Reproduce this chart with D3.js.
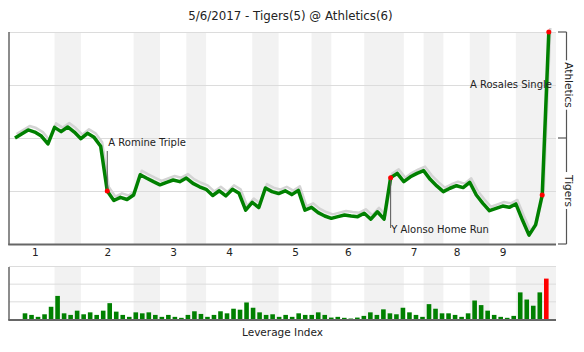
<!DOCTYPE html>
<html><head><meta charset="utf-8">
<script src="https://cdn.jsdelivr.net/npm/d3@7/dist/d3.min.js"></script>
<style>body{margin:0;background:#fff}svg{display:block}text{font-family:"DejaVu Sans",sans-serif;fill:#222}</style>
</head><body><svg id="c" width="584" height="352"></svg>
<script>
const title = "5/6/2017 - Tigers(5) @ Athletics(6)";
// Athletics win probability (%) after each plate appearance (index 0 = game start)
const winProb = [50,51.9,53.8,52.8,50.9,47.2,55.0,53.0,55.2,52.8,
  49.7,52.2,50.3,46.1,25.0,20.5,22.0,21.0,23.1,32.7,
  31.0,29.4,27.9,29.1,30.2,29.4,31.1,28.6,27.0,25.8,
  22.9,25.1,22.7,25.8,23.9,16.0,19.6,17.2,26.4,24.7,
  23.8,25.1,23.3,25.3,16.0,17.3,14.8,13.2,12.1,12.9,
  13.7,13.2,12.9,14.5,11.7,15.2,11.7,31.3,33.3,29.4,
  31.7,33.3,34.6,30.5,27.4,24.7,26.3,27.5,26.6,29.1,
  23.1,19.2,15.7,16.8,17.9,17.3,18.9,11.3,4.2,9.0,
  23.1,100];
// Leverage index of each plate appearance
const leverage = [0.70,0.52,0.30,0.59,1.44,2.67,0.70,0.52,1.00,0.59,
  0.81,0.52,1.00,1.85,0.89,0.52,0.30,0.81,0.70,0.81,
  0.52,0.30,0.52,0.30,0.19,0.52,0.93,0.63,0.30,0.52,
  0.93,0.70,1.22,1.11,1.93,1.33,0.81,0.52,0.59,0.30,
  0.52,0.30,0.70,0.52,0.52,0.81,0.52,0.22,0.30,0.19,
  0.11,0.22,0.41,0.81,0.52,1.15,0.70,0.59,1.33,0.81,
  0.52,0.30,1.74,1.22,0.70,0.70,0.52,0.30,0.70,2.15,
  1.63,1.00,0.52,0.30,0.19,0.41,3.07,2.26,1.56,3.07,
  4.63];
const halfInningStarts = [0,6,10,18,22,26,29,36,40,45,48,53,59,62,65,69,72,76];
const innings = ["1","2","3","4","5","6","7","8","9"];
const events = [
  {pa:14, label:"A Romine Triple"},
  {pa:57, label:"Y Alonso Home Run"},
  {pa:80, label:""},
  {pa:81, label:"A Rosales Single"}];
const teams = ["Athletics","Tigers"];
const bottomLabel = "Leverage Index";

const svg = d3.select("#c");
const L = 9, R = 556, T = 32, B = 244, LT = 267, LB = 320;
const nPA = leverage.length;
const x = d3.scaleLinear().domain([0, nPA]).range([15, 548.8]);
const xb = d3.scaleLinear().domain([1, nPA]).range([25, 546.3]);
const y = d3.scaleLinear().domain([0, 100]).range([B, T]);
const yl = d3.scaleLinear().domain([0, 6]).range([LB - 0.5, LT - 0.5]);

// bottom-half bands
const bands = [];
for (let i = 1; i < halfInningStarts.length; i += 2) {
  const s = halfInningStarts[i];
  const e = i + 1 < halfInningStarts.length ? halfInningStarts[i + 1] : null;
  bands.push({x0: x(s), x1: e === null ? R : x(e)});
}
[[T, B], [LT, LB]].forEach(([t, b]) => {
  svg.append("g").selectAll("rect").data(bands).join("rect")
    .attr("x", d => d.x0).attr("width", d => d.x1 - d.x0)
    .attr("y", t).attr("height", b - t).attr("fill", "#f2f2f2");
});

// gridlines
svg.append("g").selectAll("line").data([25, 50, 75, 100]).join("line")
  .attr("x1", L).attr("x2", R).attr("y1", d => y(d) + 0.5).attr("y2", d => y(d) + 0.5)
  .attr("stroke", "#dcdcdc").attr("stroke-width", 1);
svg.append("g").selectAll("line").data([2, 4, 6]).join("line")
  .attr("x1", L).attr("x2", R).attr("y1", d => yl(d)).attr("y2", d => yl(d))
  .attr("stroke", "#dcdcdc").attr("stroke-width", 1);

// leverage bars
svg.append("g").selectAll("rect").data(leverage).join("rect")
  .attr("x", (d, i) => xb(i + 1) - 2.3).attr("width", 4.6)
  .attr("y", d => yl(d)).attr("height", d => yl(0) - yl(d))
  .attr("fill", (d, i) => i === nPA - 1 ? "#ff0000" : "#008000");

// axes lines
svg.append("line").attr("x1", L).attr("x2", L).attr("y1", T).attr("y2", B + 1).attr("stroke", "#666").attr("stroke-width", 1.5);
svg.append("line").attr("x1", L - 0.75).attr("x2", R).attr("y1", B + 0.5).attr("y2", B + 0.5).attr("stroke", "#666").attr("stroke-width", 2);
svg.append("line").attr("x1", L).attr("x2", L).attr("y1", LT).attr("y2", LB).attr("stroke", "#666").attr("stroke-width", 1.5);
svg.append("line").attr("x1", L - 0.75).attr("x2", R).attr("y1", LB).attr("y2", LB).attr("stroke", "#666").attr("stroke-width", 2);

// inning labels
const mids = [];
for (let i = 0; i < halfInningStarts.length; i += 2) mids.push((halfInningStarts[i] + halfInningStarts[i + 1]) / 2);
const ax = svg.append("g").attr("transform", `translate(0,${B + 1})`)
  .call(d3.axisBottom(x).tickValues(mids).tickFormat((d, i) => innings[i]).tickSize(0).tickPadding(4));
ax.select(".domain").remove();
ax.selectAll("text").attr("font-size", 10.5).attr("font-family", "DejaVu Sans").attr("fill", "#222");

// win probability lines
const lineShadow = d3.line().x((d, i) => x(i) + 1.5).y(d => y(d) - 4);
const line = d3.line().x((d, i) => x(i)).y(d => y(d));
svg.append("path").datum(winProb).attr("d", lineShadow).attr("fill", "none")
  .attr("stroke", "#d4d4d4").attr("stroke-width", 2.5).attr("stroke-linejoin", "round");
svg.append("path").datum(winProb).attr("d", line).attr("fill", "none")
  .attr("stroke", "#008000").attr("stroke-width", 3.5).attr("stroke-linejoin", "round");

// annotations
const ev = i => events[i];
svg.append("line").attr("x1", x(14)).attr("x2", x(14)).attr("y1", 151).attr("y2", y(winProb[14]))
  .attr("stroke", "#555").attr("stroke-width", 1);
svg.append("text").attr("x", x(14) + 1).attr("y", 145.5).attr("font-size", 10).text(ev(0).label);
svg.append("line").attr("x1", x(57)).attr("x2", x(57)).attr("y1", y(winProb[57])).attr("y2", 228)
  .attr("stroke", "#555").attr("stroke-width", 1);
svg.append("text").attr("x", x(57) + 0.5).attr("y", 233).attr("font-size", 10).text(ev(1).label);
svg.append("text").attr("x", 552).attr("y", 87.5).attr("text-anchor", "end").attr("font-size", 10).text(ev(3).label);

svg.append("g").selectAll("circle").data(events).join("circle")
  .attr("cx", d => x(d.pa)).attr("cy", d => y(winProb[d.pa])).attr("r", 2.5).attr("fill", "#ff0000");

// right bracket
const bx = 566.5;
svg.append("line").attr("x1", bx).attr("x2", bx).attr("y1", T).attr("y2", B).attr("stroke", "#555").attr("stroke-width", 1.2);
svg.append("g").selectAll("line").data([100, 50, 0]).join("line")
  .attr("x1", 558).attr("x2", bx).attr("y1", d => y(d)).attr("y2", d => y(d))
  .attr("stroke", "#555").attr("stroke-width", 1.2);
[[teams[0], 75], [teams[1], 25]].forEach(([t, v]) => {
  const g = svg.append("g").attr("transform", `translate(${bx - 2},${y(v)}) rotate(90)`);
  const tx = g.append("text").attr("text-anchor", "middle").attr("font-size", 10.5).text(t);
  const bb = tx.node().getBBox();
  g.insert("rect", "text").attr("x", bb.x - 2).attr("y", bb.y).attr("width", bb.width + 4).attr("height", bb.height).attr("fill", "#fff");
});

// title and bottom label
svg.append("text").attr("x", 290.5).attr("y", 19.5).attr("text-anchor", "middle").attr("font-size", 11.8).text(title);
svg.append("text").attr("x", 282.5).attr("y", 336).attr("text-anchor", "middle").attr("font-size", 10.5).text(bottomLabel);
</script></body></html>
